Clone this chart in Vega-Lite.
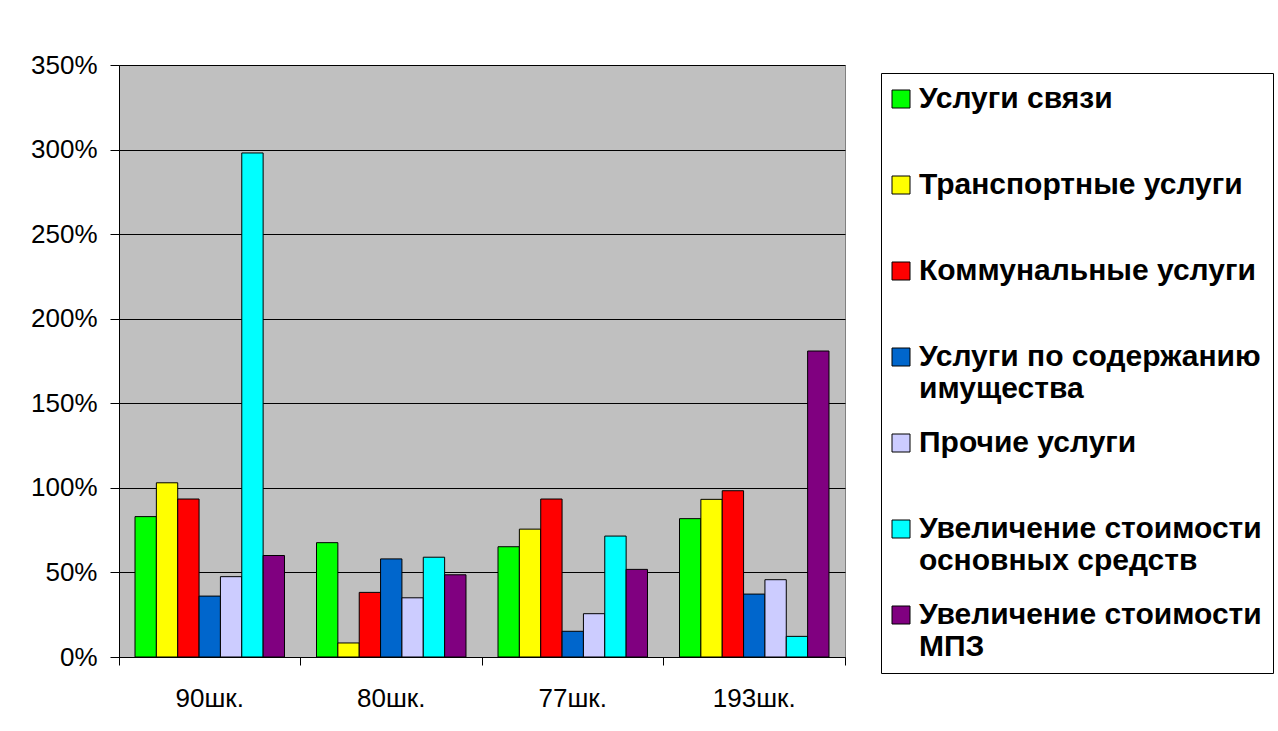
{
  "$schema": "https://vega.github.io/schema/vega-lite/v6.json",
  "width": 726,
  "height": 592,
  "padding": {"left": 30, "top": 52, "right": 0, "bottom": 0},
  "background": "white",
  "data": {
    "values": [
      {"school": "90шк.", "series": "Услуги связи", "value": 0.83},
      {"school": "90шк.", "series": "Транспортные услуги", "value": 1.03},
      {"school": "90шк.", "series": "Коммунальные услуги", "value": 0.934},
      {"school": "90шк.", "series": "Услуги по содержанию имущества", "value": 0.36},
      {"school": "90шк.", "series": "Прочие услуги", "value": 0.475},
      {"school": "90шк.", "series": "Увеличение стоимости основных средств", "value": 2.98},
      {"school": "90шк.", "series": "Увеличение стоимости МПЗ", "value": 0.60},
      {"school": "80шк.", "series": "Услуги связи", "value": 0.676},
      {"school": "80шк.", "series": "Транспортные услуги", "value": 0.083},
      {"school": "80шк.", "series": "Коммунальные услуги", "value": 0.382},
      {"school": "80шк.", "series": "Услуги по содержанию имущества", "value": 0.58},
      {"school": "80шк.", "series": "Прочие услуги", "value": 0.35},
      {"school": "80шк.", "series": "Увеличение стоимости основных средств", "value": 0.59},
      {"school": "80шк.", "series": "Увеличение стоимости МПЗ", "value": 0.486},
      {"school": "77шк.", "series": "Услуги связи", "value": 0.652},
      {"school": "77шк.", "series": "Транспортные услуги", "value": 0.756},
      {"school": "77шк.", "series": "Коммунальные услуги", "value": 0.934},
      {"school": "77шк.", "series": "Услуги по содержанию имущества", "value": 0.152},
      {"school": "77шк.", "series": "Прочие услуги", "value": 0.256},
      {"school": "77шк.", "series": "Увеличение стоимости основных средств", "value": 0.715},
      {"school": "77шк.", "series": "Увеличение стоимости МПЗ", "value": 0.518},
      {"school": "193шк.", "series": "Услуги связи", "value": 0.818},
      {"school": "193шк.", "series": "Транспортные услуги", "value": 0.932},
      {"school": "193шк.", "series": "Коммунальные услуги", "value": 0.983},
      {"school": "193шк.", "series": "Услуги по содержанию имущества", "value": 0.372},
      {"school": "193шк.", "series": "Прочие услуги", "value": 0.457},
      {"school": "193шк.", "series": "Увеличение стоимости основных средств", "value": 0.122},
      {"school": "193шк.", "series": "Увеличение стоимости МПЗ", "value": 1.809}
    ]
  },
  "mark": {"type": "bar", "stroke": "black", "strokeWidth": 1},
  "encoding": {
    "x": {
      "field": "school",
      "type": "nominal",
      "sort": ["90шк.", "80шк.", "77шк.", "193шк."],
      "scale": {"paddingInner": 0, "paddingOuter": 0},
      "axis": {
        "title": null,
        "labelAngle": 0,
        "bandPosition": 1,
        "tickExtra": true,
        "tickSize": 8,
        "tickColor": "black",
        "domainColor": "black",
        "labelFont": "Liberation Sans",
        "labelFontSize": 26,
        "labelColor": "black",
        "labelPadding": 20,
        "grid": false
      }
    },
    "xOffset": {
      "field": "series",
      "type": "nominal",
      "sort": ["Услуги связи", "Транспортные услуги", "Коммунальные услуги", "Услуги по содержанию имущества", "Прочие услуги", "Увеличение стоимости основных средств", "Увеличение стоимости МПЗ"],
      "scale": {"paddingInner": 0, "paddingOuter": 0.75}
    },
    "y": {
      "field": "value",
      "type": "quantitative",
      "scale": {"domain": [0, 3.5]},
      "axis": {
        "title": null,
        "values": [0, 0.5, 1, 1.5, 2, 2.5, 3, 3.5],
        "format": ".0%",
        "grid": true,
        "gridColor": "black",
        "gridOpacity": 1,
        "tickSize": 9,
        "tickColor": "black",
        "domainColor": "black",
        "labelFont": "Liberation Sans",
        "labelFontSize": 26,
        "labelColor": "black",
        "labelPadding": 13
      }
    },
    "color": {
      "field": "series",
      "type": "nominal",
      "scale": {
        "domain": ["Услуги связи", "Транспортные услуги", "Коммунальные услуги", "Услуги по содержанию имущества", "Прочие услуги", "Увеличение стоимости основных средств", "Увеличение стоимости МПЗ"],
        "range": ["#00FF00", "#FFFF00", "#FF0000", "#0066CC", "#CCCCFF", "#00FFFF", "#800080"]
      },
      "legend": {
        "title": null,
        "orient": "none",
        "legendX": 762,
        "legendY": 8,
        "direction": "vertical",
        "columns": 1,
        "strokeColor": "black",
        "fillColor": "white",
        "padding": 11,
        "symbolType": "square",
        "symbolSize": 324,
        "symbolOffset": -6,
        "symbolStrokeColor": "black",
        "symbolStrokeWidth": 1,
        "symbolOpacity": 1,
        "labelFont": "Liberation Sans",
        "labelFontSize": 30,
        "labelFontWeight": "bold",
        "labelColor": "black",
        "labelLimit": 0,
        "labelOffset": 3,
        "labelBaseline": "middle",
        "labelLineHeight": 33,
        "rowPadding": 24,
        "gridAlign": "all",
        "labelExpr": "datum.label == 'Услуги по содержанию имущества' ? ['Услуги по содержанию', 'имущества'] : datum.label == 'Увеличение стоимости основных средств' ? ['Увеличение стоимости', 'основных средств'] : datum.label == 'Увеличение стоимости МПЗ' ? ['Увеличение стоимости', 'МПЗ'] : datum.label"
      }
    }
  },
  "config": {
    "view": {"fill": "#C0C0C0", "stroke": "#808080", "strokeWidth": 1},
    "axis": {"domainWidth": 1, "tickWidth": 1, "gridWidth": 1}
  }
}
